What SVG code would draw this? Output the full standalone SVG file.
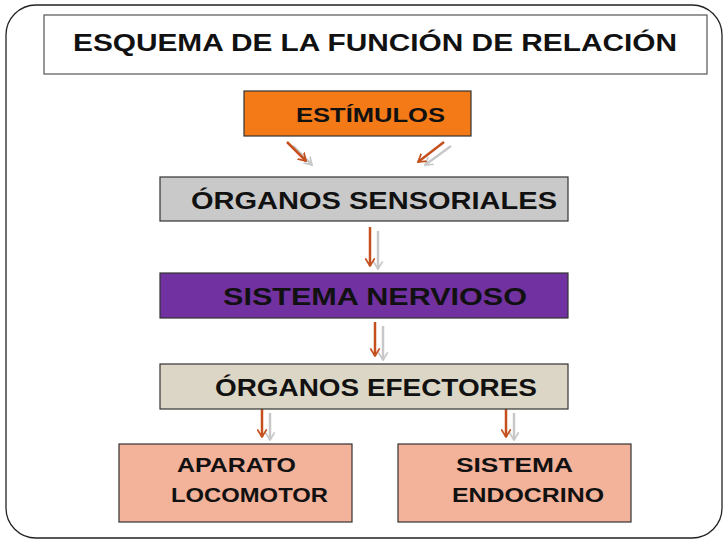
<svg xmlns="http://www.w3.org/2000/svg" width="728" height="546" viewBox="0 0 728 546">
<defs>
<style>
.box{stroke:#333;stroke-width:1.2}
.t{font-family:"Comic Sans MS","Liberation Sans",sans-serif;font-weight:bold;fill:#111;font-size:24px}
.s{font-size:21px}
.red{stroke:#C4501E;stroke-width:2.5;fill:none}
.gray{stroke:#C8C8C8;stroke-width:2.5;fill:none}
</style>
<marker id="hr" viewBox="0 0 10 12" refX="9" refY="6" markerWidth="3.4" markerHeight="4.4" orient="auto" markerUnits="strokeWidth">
<polyline points="0,0.5 9,6 0,11.5" fill="none" stroke="#C4501E" stroke-width="2"/>
</marker>
<marker id="hg" viewBox="0 0 10 12" refX="9" refY="6" markerWidth="3.4" markerHeight="4.4" orient="auto" markerUnits="strokeWidth">
<polyline points="0,0.5 9,6 0,11.5" fill="none" stroke="#C8C8C8" stroke-width="2"/>
</marker>
</defs>
<rect width="728" height="546" fill="#fff"/>
<rect x="6" y="5" width="716" height="533" rx="30" fill="none" stroke="#222" stroke-width="1.3"/>
<g id="title">
<rect x="44" y="15" width="663" height="59" fill="#fff" stroke="#555" stroke-width="1.2"/>
<text class="t" x="73" y="51" textLength="604" lengthAdjust="spacingAndGlyphs">ESQUEMA DE LA FUNCIÓN DE RELACIÓN</text>
</g>
<g id="connectors">
<line class="gray" x1="293" y1="146" x2="312" y2="165" marker-end="url(#hg)"/>
<line class="red" x1="287" y1="142" x2="306" y2="161" marker-end="url(#hr)"/>
<line class="gray" x1="451" y1="146" x2="425" y2="165" marker-end="url(#hg)"/>
<line class="red" x1="444" y1="142" x2="418" y2="162" marker-end="url(#hr)"/>
<line class="gray" x1="378" y1="231" x2="378" y2="269" marker-end="url(#hg)"/>
<line class="red" x1="370" y1="227" x2="370" y2="266" marker-end="url(#hr)"/>
<line class="gray" x1="383" y1="326" x2="383" y2="360" marker-end="url(#hg)"/>
<line class="red" x1="375" y1="322" x2="375" y2="356" marker-end="url(#hr)"/>
<line class="gray" x1="270" y1="413" x2="270" y2="440" marker-end="url(#hg)"/>
<line class="red" x1="262" y1="409" x2="262" y2="437" marker-end="url(#hr)"/>
<line class="gray" x1="514" y1="413" x2="514" y2="440" marker-end="url(#hg)"/>
<line class="red" x1="506" y1="409" x2="506" y2="437" marker-end="url(#hr)"/>
</g>
<g id="estimulos">
<rect class="box" x="244" y="91" width="227" height="45" fill="#F47A18"/>
<text class="t s" x="296" y="122" textLength="149" lengthAdjust="spacingAndGlyphs">ESTÍMULOS</text>
</g>
<g id="sensoriales">
<rect class="box" x="160" y="177" width="408" height="44" fill="#C9C9C9"/>
<text class="t" x="191" y="209" textLength="366" lengthAdjust="spacingAndGlyphs">ÓRGANOS SENSORIALES</text>
</g>
<g id="nervioso">
<rect class="box" x="160" y="273" width="408" height="45" fill="#7131A0"/>
<text class="t" x="223" y="305" textLength="304" lengthAdjust="spacingAndGlyphs">SISTEMA NERVIOSO</text>
</g>
<g id="efectores">
<rect class="box" x="160" y="364" width="408" height="45" fill="#DBD6C6"/>
<text class="t" x="215" y="396" textLength="322" lengthAdjust="spacingAndGlyphs">ÓRGANOS EFECTORES</text>
</g>
<g id="locomotor">
<rect class="box" x="119" y="444" width="233" height="78" fill="#F3B29A"/>
<text class="t s" x="177" y="472" textLength="119" lengthAdjust="spacingAndGlyphs">APARATO</text>
<text class="t s" x="171" y="502" textLength="157" lengthAdjust="spacingAndGlyphs">LOCOMOTOR</text>
</g>
<g id="endocrino">
<rect class="box" x="398" y="444" width="233" height="78" fill="#F3B29A"/>
<text class="t s" x="456" y="472" textLength="117" lengthAdjust="spacingAndGlyphs">SISTEMA</text>
<text class="t s" x="452" y="502" textLength="152" lengthAdjust="spacingAndGlyphs">ENDOCRINO</text>
</g>
</svg>
